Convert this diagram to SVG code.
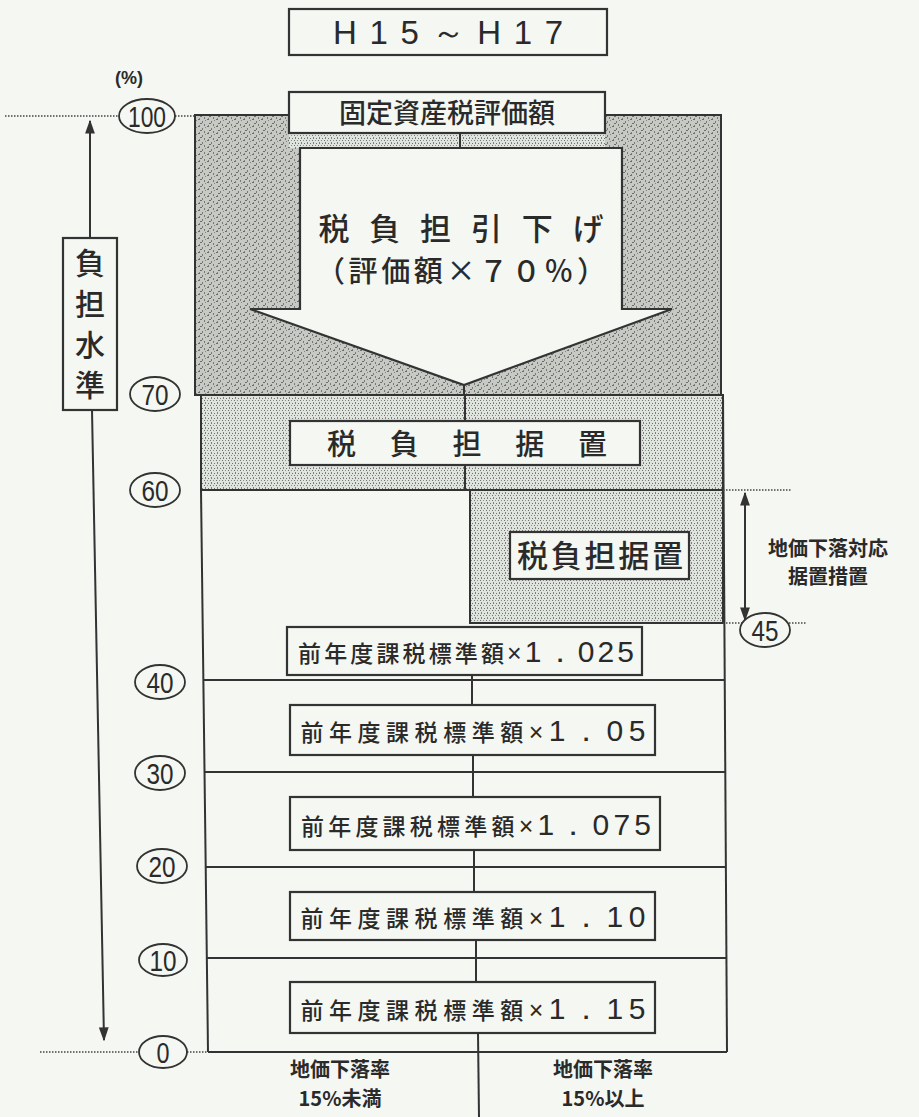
<svg xmlns="http://www.w3.org/2000/svg" width="919" height="1117" viewBox="0 0 919 1117">
<defs>
<pattern id="dark" width="9" height="7" patternUnits="userSpaceOnUse">
<rect width="9" height="7" fill="#c6c9c4"/>
<rect x="0" y="0" width="2" height="1" fill="#6a6e69"/>
<rect x="4" y="2" width="1" height="2" fill="#767a75"/>
<rect x="7" y="1" width="1" height="1" fill="#80847f"/>
<rect x="2" y="4" width="2" height="1" fill="#6a6e69"/>
<rect x="6" y="5" width="1" height="2" fill="#767a75"/>
<rect x="1" y="6" width="1" height="1" fill="#80847f"/>
</pattern>
<pattern id="light" width="6" height="5" patternUnits="userSpaceOnUse">
<rect width="6" height="5" fill="#e0e4df"/>
<rect x="0" y="0" width="1" height="1" fill="#6f736e"/>
<rect x="3" y="0" width="1" height="1" fill="#8a8e89"/>
<rect x="1" y="2" width="1" height="2" fill="#7d817c"/>
<rect x="4" y="3" width="1" height="1" fill="#6f736e"/>
</pattern>
<marker id="ah" viewBox="0 0 10 10" refX="9" refY="5" markerWidth="7" markerHeight="7" orient="auto-start-reverse">
<path d="M0,1.5 L10,5 L0,8.5 z" fill="#333"/>
</marker>
<style>
.ln{stroke:#333;stroke-width:2;fill:none}
.bx{stroke:#333;stroke-width:2.2;fill:#f4f7f2}
.dot{stroke:#444;stroke-width:1.5;stroke-dasharray:1.5 1.5;fill:none}
.el{stroke:#333;stroke-width:1.8;fill:#f4f7f2}
.num{font-family:"Liberation Sans",sans-serif;font-size:29px;fill:#2a2a2a;text-anchor:middle}
.jp{font-family:"Noto Sans CJK JP",sans-serif;fill:#2a2a2a;text-anchor:middle;font-weight:500}
.jb{font-family:"Noto Sans CJK JP",sans-serif;fill:#2a2a2a;font-weight:bold;text-anchor:middle}
.lat{font-family:"Liberation Sans",sans-serif;font-weight:normal}
</style>
</defs>
<rect width="919" height="1117" fill="#f4f7f2"/>

<g id="title">
<rect x="289" y="9" width="318" height="46" class="bx"/>
<text x="448" y="44" font-family="Liberation Sans,sans-serif" font-size="33" fill="#2a2a2a" text-anchor="middle" textLength="230" lengthAdjust="spacing">H15～H17</text>
</g>

<g id="region-hikisage">
<rect x="195" y="115" width="526" height="280" class="ln" style="fill:url(#dark)"/>
<rect x="289" y="133" width="316" height="15" style="fill:url(#light)"/>
<line x1="460" y1="133" x2="460" y2="148" class="ln"/>
<polygon points="300,148 622,148 622,309 672,309 464,385 250,309 300,309" class="bx"/>
<line x1="464" y1="385" x2="464" y2="395" class="ln"/>
<text class="jp" x="461" y="240" font-size="31" textLength="285" lengthAdjust="spacing">税負担引下げ</text>
<text class="jp" x="461" y="282" font-size="29" textLength="290" lengthAdjust="spacing">（評価額×７０％）</text>
</g>

<g id="hyoka">
<rect x="289" y="92" width="316" height="41" class="bx"/>
<text class="jp" x="447" y="123" font-size="27">固定資産税評価額</text>
</g>

<g id="region-suekoki">
<rect x="201" y="395" width="522" height="95" class="ln" style="fill:url(#light)"/>
<line x1="465" y1="395" x2="465" y2="490" class="ln"/>
<rect x="290" y="421" width="350" height="44" class="bx"/>
<text class="jp" x="467" y="455" font-size="29" textLength="280" lengthAdjust="spacing">税負担据置</text>
</g>

<g id="region-chika">
<rect x="470" y="490" width="253" height="133" class="ln" style="fill:url(#light)"/>
<rect x="510" y="532" width="179" height="47" class="bx"/>
<text class="jp" x="600" y="567" font-size="31" textLength="166" lengthAdjust="spacing">税負担据置</text>
</g>

<g id="frame">
<line x1="201" y1="490" x2="208" y2="1052" class="ln"/>
<line x1="723" y1="395" x2="727" y2="1052" class="ln"/>
<line x1="470" y1="623" x2="723" y2="623" class="ln"/>
<line x1="204" y1="680" x2="724" y2="680" class="ln"/>
<line x1="205" y1="772" x2="725" y2="772" class="ln"/>
<line x1="206" y1="867" x2="726" y2="867" class="ln"/>
<line x1="207" y1="958" x2="726" y2="958" class="ln"/>
<line x1="208" y1="1052" x2="727" y2="1052" class="ln"/>
</g>

<g id="connectors">
<line x1="472" y1="675" x2="472" y2="705" class="ln"/>
<line x1="473" y1="755" x2="473" y2="797" class="ln"/>
<line x1="474" y1="850" x2="474" y2="892" class="ln"/>
<line x1="476" y1="940" x2="476" y2="982" class="ln"/>
<line x1="478" y1="1033" x2="479" y2="1117" class="ln"/>
<line x1="90" y1="238" x2="90" y2="121" class="ln" marker-end="url(#ah)"/>
<line x1="92" y1="410" x2="104" y2="1040" class="ln" marker-end="url(#ah)"/>
<line x1="745" y1="620" x2="745" y2="493" class="ln" marker-end="url(#ah)" marker-start="url(#ah)"/>
<line x1="5" y1="116" x2="119" y2="116" class="dot"/>
<line x1="175" y1="116" x2="195" y2="116" class="dot"/>
<line x1="40" y1="1052" x2="139" y2="1052" class="dot"/>
<line x1="187" y1="1052" x2="208" y2="1052" class="dot"/>
<line x1="723" y1="490" x2="792" y2="490" class="dot"/>
<line x1="723" y1="623" x2="742" y2="623" class="dot"/>
<line x1="789" y1="623" x2="806" y2="623" class="dot"/>
</g>

<g id="box-1025">
<rect x="287" y="627" width="355" height="48" class="bx"/>
<text class="jp" x="466" y="662" font-size="23" textLength="336" lengthAdjust="spacing">前年度課税標準額<tspan class="lat" font-size="25">×</tspan><tspan class="lat" font-size="30">1．025</tspan></text>
</g>
<g id="box-105">
<rect x="290" y="705" width="365" height="50" class="bx"/>
<text class="jp" x="473" y="741" font-size="23" textLength="345" lengthAdjust="spacing">前年度課税標準額<tspan class="lat" font-size="25">×</tspan><tspan class="lat" font-size="30">1．05</tspan></text>
</g>
<g id="box-1075">
<rect x="290" y="797" width="370" height="53" class="bx"/>
<text class="jp" x="476" y="835" font-size="23" textLength="350" lengthAdjust="spacing">前年度課税標準額<tspan class="lat" font-size="25">×</tspan><tspan class="lat" font-size="30">1．075</tspan></text>
</g>
<g id="box-110">
<rect x="290" y="892" width="365" height="48" class="bx"/>
<text class="jp" x="473" y="927" font-size="23" textLength="345" lengthAdjust="spacing">前年度課税標準額<tspan class="lat" font-size="25">×</tspan><tspan class="lat" font-size="30">1．10</tspan></text>
</g>
<g id="box-115">
<rect x="290" y="982" width="365" height="51" class="bx"/>
<text class="jp" x="473" y="1019" font-size="23" textLength="345" lengthAdjust="spacing">前年度課税標準額<tspan class="lat" font-size="25">×</tspan><tspan class="lat" font-size="30">1．15</tspan></text>
</g>

<g id="axis-label">
<rect x="63" y="238" width="54" height="172" class="bx"/>
<text class="jp" x="90" y="324" font-size="30" writing-mode="vertical-rl" textLength="152" lengthAdjust="spacing">負担水準</text>
</g>

<g id="scale">
<text x="129" y="84" font-family="Liberation Sans,sans-serif" font-size="18" font-weight="bold" fill="#2a2a2a" text-anchor="middle">(%)</text>
<ellipse cx="147" cy="116" rx="28" ry="17" class="el"/><text class="num" x="147" y="127" textLength="38" lengthAdjust="spacingAndGlyphs">100</text>
<ellipse cx="155" cy="394" rx="25" ry="17" class="el"/><text class="num" x="155" y="405" textLength="27" lengthAdjust="spacingAndGlyphs">70</text>
<ellipse cx="155" cy="490" rx="25" ry="17" class="el"/><text class="num" x="155" y="501" textLength="27" lengthAdjust="spacingAndGlyphs">60</text>
<ellipse cx="160" cy="682" rx="25" ry="17" class="el"/><text class="num" x="160" y="693" textLength="27" lengthAdjust="spacingAndGlyphs">40</text>
<ellipse cx="160" cy="773" rx="25" ry="17" class="el"/><text class="num" x="160" y="784" textLength="27" lengthAdjust="spacingAndGlyphs">30</text>
<ellipse cx="162" cy="866" rx="25" ry="17" class="el"/><text class="num" x="162" y="877" textLength="27" lengthAdjust="spacingAndGlyphs">20</text>
<ellipse cx="163" cy="960" rx="24" ry="16" class="el"/><text class="num" x="163" y="971" textLength="27" lengthAdjust="spacingAndGlyphs">10</text>
<ellipse cx="163" cy="1052" rx="24" ry="16" class="el"/><text class="num" x="163" y="1063" textLength="13" lengthAdjust="spacingAndGlyphs">0</text>
<ellipse cx="765" cy="630" rx="25" ry="17" class="el"/><text class="num" x="765" y="641" textLength="27" lengthAdjust="spacingAndGlyphs">45</text>
</g>

<g id="note-chika">
<text class="jb" x="828" y="556" font-size="20">地価下落対応</text>
<text class="jb" x="828" y="584" font-size="20">据置措置</text>
</g>
<g id="label-under">
<text class="jb" x="340" y="1077" font-size="20">地価下落率</text>
<text class="jb" x="340" y="1106" font-size="20">15%未満</text>
</g>
<g id="label-over">
<text class="jb" x="603" y="1077" font-size="20">地価下落率</text>
<text class="jb" x="603" y="1106" font-size="20">15%以上</text>
</g>
</svg>
